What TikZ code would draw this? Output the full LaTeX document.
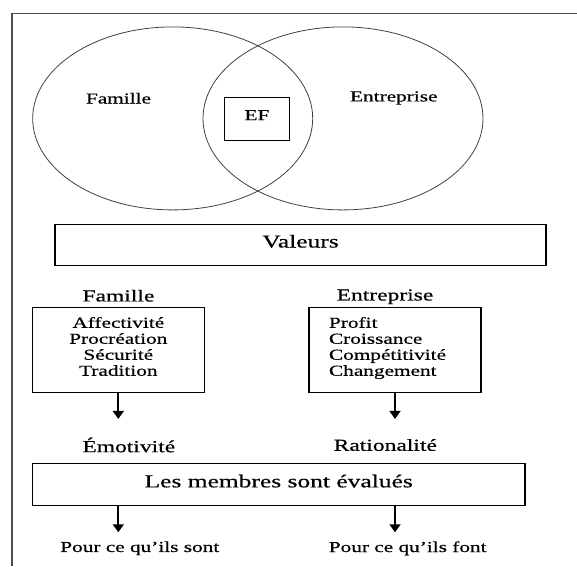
\documentclass[tikz,border=0pt]{standalone}
\usepackage{fontspec}
\setmainfont[FakeStretch=1.4,FakeBold=0.5]{Liberation Serif}
\usetikzlibrary{positioning,arrows.meta,shapes.geometric}

\begin{document}
\begin{tikzpicture}[
  x=1pt, y=-1pt,
  small/.style={font=\fontsize{15.2}{16}\selectfont, inner sep=0pt},
  medium/.style={font=\fontsize{16.8}{18}\selectfont, inner sep=0pt},
  large/.style={font=\fontsize{18.2}{20}\selectfont},
  circ/.style={draw=black!75, line width=0.8pt, ellipse, inner sep=0pt, minimum width=280pt, minimum height=183pt},
  box/.style={draw, line width=1.1pt, inner sep=0pt, text depth=7pt},
  arr/.style={-{Triangle[length=8pt,width=11pt]}, line width=1.8pt}
]
\useasboundingbox (0,0) rectangle (577,566);
% frame
\draw[black!70, line width=1.4pt] (577,13.3) -- (12,13.3) -- (12,566);

% the two circles
\node[circ] (fam) at (172.7,118.4) {};
\node[circ] (ent) at (343,118.4) {};
\node[small] (famlbl) at (118.5,98.3) {Famille};
\node[small] (entlbl) at (393.8,98) {Entreprise};
\node[box, small, minimum width=65pt, minimum height=43pt] (ef) at (257,118.7) {EF};

\node[box, large, minimum width=491pt, minimum height=40.7pt] (valeurs) at (300.5,244.7) {Valeurs};

% values of each side
\node[medium] (famhead) at (118.5,295.7) {Famille};
\node[medium] (enthead) at (385,296.7) {Entreprise};
\node[box, small, align=center, minimum width=171.8pt, minimum height=84.3pt] (famlist) at (118.3,349.9)
  {Affectivité\\Procréation\\Sécurité\\Tradition};
\node[box, small, align=left, text width=132pt, inner xsep=20pt, text depth=55pt, minimum height=84.3pt] (entlist) at (395,349.9)
  {Profit\\Croissance\\Compétitivité\\Changement};

\node[medium] (emo) at (128.8,445) {Émotivité};
\node[medium] (rat) at (385.3,445) {Rationalité};
\coordinate[below=26.3pt of famlist.south] (emotip);
\coordinate[below=26.3pt of entlist.south] (rattip);
\draw[arr] (famlist.south) -- (emotip);
\draw[arr] (entlist.south) -- (rattip);

\node[box, large, minimum width=492.6pt, minimum height=42.4pt] (membres) at (278.7,484.5) {Les membres sont évalués};
\path (membres.south -| famlist.south) coordinate (sontstart)
      (membres.south -| entlist.south) coordinate (fontstart);
\coordinate[below=26pt of sontstart] (sonttip);
\coordinate[below=26pt of fontstart] (fonttip);
\draw[arr] (sontstart) -- (sonttip);
\draw[arr] (fontstart) -- (fonttip);

\node[small] (sont) at (139.8,548.3) {Pour ce qu'ils sont};
\node[small] (font) at (407.7,548.3) {Pour ce qu'ils font};
\end{tikzpicture}
\end{document}
